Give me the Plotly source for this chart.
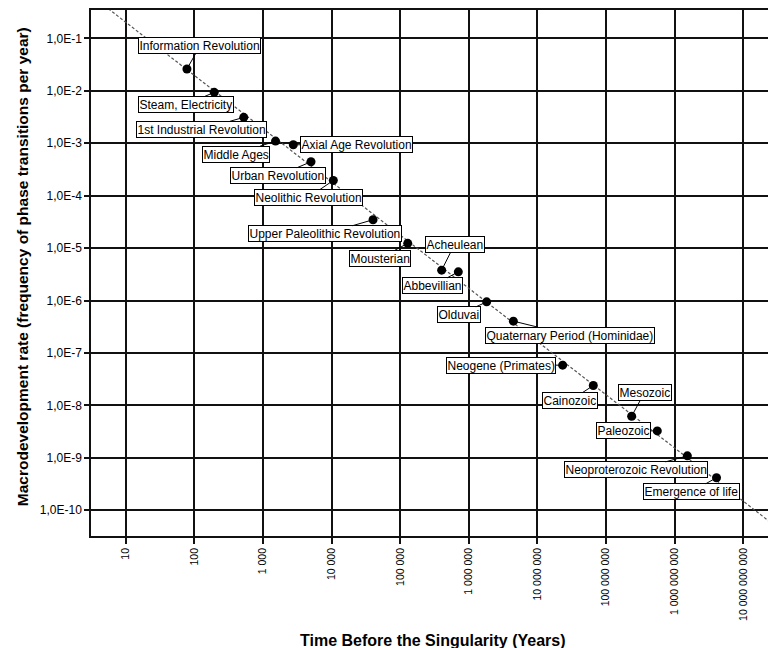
import math
import plotly.graph_objects as go

# ---------------- data ----------------
phases = [
    "Information Revolution", "Steam, Electricity", "1st Industrial Revolution",
    "Middle Ages", "Axial Age Revolution", "Urban Revolution", "Neolithic Revolution",
    "Upper Paleolithic Revolution", "Mousterian", "Acheulean", "Abbevillian", "Olduvai",
    "Quaternary Period (Hominidae)", "Neogene (Primates)", "Cainozoic", "Mesozoic",
    "Paleozoic", "Neoproterozoic Revolution", "Emergence of life",
]
years_before = [
    78, 195, 525, 1524, 2767, 5012, 10600, 40200, 128800, 402000, 703000,
    1.82e6, 4.46e6, 2.33e7, 6.52e7, 2.36e8, 5.58e8, 1.53e9, 4.07e9,
]
rate = [
    2.60e-2, 9.33e-3, 3.11e-3, 1.096e-3, 9.33e-4, 4.42e-4, 1.95e-4, 3.47e-5,
    1.23e-5, 3.79e-6, 3.52e-6, 9.42e-7, 4.04e-7, 5.85e-8, 2.39e-8, 6.21e-9,
    3.26e-9, 1.09e-9, 4.17e-10,
]
# power-law trend line: rate = FIT_COEF * t ** FIT_EXP
FIT_COEF = 2.10
FIT_EXP = -1.015
fit_x = [10 ** 0.4, 10 ** 10.5]

x_tickvals = [10, 100, 1e3, 1e4, 1e5, 1e6, 1e7, 1e8, 1e9, 1e10]
x_ticktext = ["10", "100", "1 000", "10 000", "100 000", "1 000 000",
              "10 000 000", "100 000 000", "1 000 000 000", "10 000 000 000"]
y_tickvals = [1e-1, 1e-2, 1e-3, 1e-4, 1e-5, 1e-6, 1e-7, 1e-8, 1e-9, 1e-10]
y_ticktext = ["1,0E-1", "1,0E-2", "1,0E-3", "1,0E-4", "1,0E-5",
              "1,0E-6", "1,0E-7", "1,0E-8", "1,0E-9", "1,0E-10"]

# label box offsets (pixels) relative to their points -- layout only
label_offsets = [
    (13, -23), (-28, 12), (-42, 12), (-40, 13), (63, 0), (-33, 14), (-25, 17),
    (-48, 14), (-28, 15), (13, -26), (-26, 14), (-28, 13), (57, 14), (-62, 0),
    (-23, 15), (13, -24), (-34, 0), (-51, 14), (-25, 14),
]

FONT = "Liberation Sans, Arial, sans-serif"

fig = go.Figure()
fig.add_trace(go.Scatter(
    x=fit_x, y=[FIT_COEF * v ** FIT_EXP for v in fit_x], mode="lines",
    line=dict(color="#555555", width=1.2, dash="3px,2px"),
    hoverinfo="skip", showlegend=False,
))
fig.add_trace(go.Scatter(
    x=years_before, y=rate, mode="markers",
    marker=dict(color="black", size=9),
    text=phases, showlegend=False,
))

# annotations on log axes are positioned in log10 units
for name, xv, yv, (ox, oy) in zip(phases, years_before, rate, label_offsets):
    fig.add_annotation(
        x=math.log10(xv), y=math.log10(yv), xref="x", yref="y", text=name,
        showarrow=True, arrowhead=0, arrowwidth=1, arrowcolor="black",
        ax=ox, ay=oy, standoff=0, startstandoff=0,
        bgcolor="white", bordercolor="black", borderwidth=1, borderpad=0.5,
        font=dict(family=FONT, size=12, color="black"),
    )

fig.add_annotation(
    text="<b>Time Before the Singularity (Years)</b>", xref="paper", yref="paper",
    x=0.505, y=0, yshift=-104, showarrow=False, xanchor="center", yanchor="middle",
    font=dict(family=FONT, size=16, color="black"),
)
fig.add_annotation(
    text="<b>Macrodevelopment rate (frequency of phase transitions per year)</b>",
    xref="paper", yref="paper", x=0, xshift=-69, y=0.511, textangle=-90,
    showarrow=False, xanchor="center", yanchor="middle",
    font=dict(family=FONT, size=15.5, color="black"),
)

fig.update_layout(
    width=768, height=648,
    margin=dict(l=91, r=0, t=10, b=112, autoexpand=False),
    paper_bgcolor="white", plot_bgcolor="white",
    font=dict(family=FONT, color="black"),
    xaxis=dict(
        type="log", range=[0.494, 10.36], automargin=False,
        tickvals=x_tickvals, ticktext=x_ticktext, tickangle=-90,
        tickfont=dict(size=10.5, color="black"),
        showgrid=True, gridcolor="#111111", gridwidth=1.5,
        showline=True, linecolor="#111111", linewidth=1.5, mirror=True,
        ticks="outside", ticklen=6, tickwidth=1.5, tickcolor="#111111",
        zeroline=False,
    ),
    yaxis=dict(
        type="log", range=[-10.491, -0.46], automargin=False,
        tickvals=y_tickvals, ticktext=y_ticktext,
        tickfont=dict(size=12, color="black"),
        showgrid=True, gridcolor="#111111", gridwidth=1.5,
        showline=True, linecolor="#111111", linewidth=1.5,
        ticks="outside", ticklen=5, tickwidth=1.5, tickcolor="#111111",
        zeroline=False,
    ),
)

fig.write_html(
    "out.html",
    config={"displayModeBar": False},
    post_script="document.body.style.margin='0';document.body.style.overflow='hidden';",
)
